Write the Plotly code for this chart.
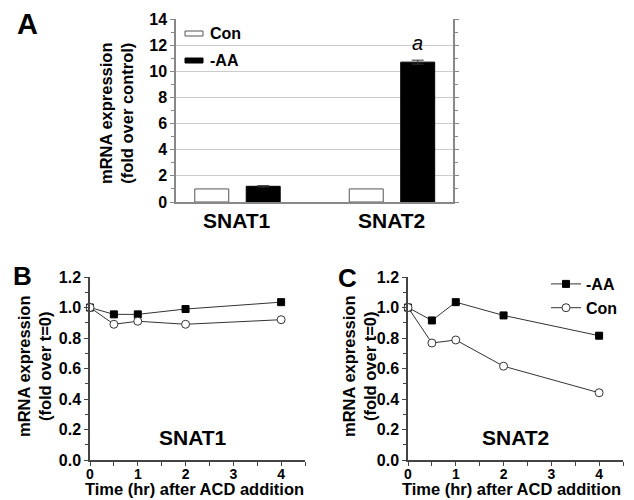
import plotly.graph_objects as go

# ---- Data ----
genes = ["SNAT1", "SNAT2"]
con_fold = [1.0, 1.0]
aa_fold = [1.2, 10.7]
aa_err = [0.05, 0.15]
con_err = [0.0, 0.0]

time_hr = [0, 0.5, 1, 2, 4]
snat1_aa = [1.0, 0.955, 0.955, 0.99, 1.035]
snat1_con = [1.0, 0.89, 0.91, 0.89, 0.92]
snat2_aa = [1.0, 0.915, 1.035, 0.948, 0.815]
snat2_con = [1.0, 0.767, 0.787, 0.615, 0.441]

x_title = "Time (hr) after ACD addition"

FONT = "Liberation Sans, Arial, Helvetica, sans-serif"
AX = "#444444"
LN = "#333333"
W, H = 634, 500

def px(x):
    return x / W

def py(y):
    return 1 - y / H

fig = go.Figure()

# Panel A bars
fig.add_trace(go.Bar(x=genes, y=con_fold, name="Con", marker=dict(color="white", line=dict(color="#555", width=1)),
                     error_y=dict(type="data", array=con_err, visible=False),
                     xaxis="x", yaxis="y", showlegend=False))
fig.add_trace(go.Bar(x=genes, y=aa_fold, name="-AA", marker=dict(color="black", line=dict(color="black", width=1)),
                     error_y=dict(type="data", array=aa_err, color="#333", thickness=1, width=6),
                     xaxis="x", yaxis="y", showlegend=False))

sq = dict(symbol="square", size=7, color="black", line=dict(color="black", width=1))
circ = dict(symbol="circle", size=8, color="white", line=dict(color=LN, width=1))

# Panel B
fig.add_trace(go.Scatter(x=time_hr, y=snat1_aa, mode="lines+markers", name="-AA", line=dict(color=LN, width=1),
                         marker=sq, xaxis="x2", yaxis="y2", showlegend=False, cliponaxis=False))
fig.add_trace(go.Scatter(x=time_hr, y=snat1_con, mode="lines+markers", name="Con", line=dict(color=LN, width=1),
                         marker=circ, xaxis="x2", yaxis="y2", showlegend=False, cliponaxis=False))
# Panel C
fig.add_trace(go.Scatter(x=time_hr, y=snat2_aa, mode="lines+markers", name="-AA", line=dict(color=LN, width=1),
                         marker=sq, xaxis="x3", yaxis="y3", showlegend=True, cliponaxis=False))
fig.add_trace(go.Scatter(x=time_hr, y=snat2_con, mode="lines+markers", name="Con", line=dict(color=LN, width=1),
                         marker=circ, xaxis="x3", yaxis="y3", showlegend=True, cliponaxis=False))

tickf = dict(family=FONT, size=16, color="black", weight="bold")
tickfx = dict(family=FONT, size=14, color="black", weight="bold")

line_x = dict(range=[0, 4.5], dtick=1, ticks="outside", ticklen=4, tickcolor=AX, showline=True,
              linecolor=AX, linewidth=1.5, showgrid=False, zeroline=False, tickfont=tickfx,
              ticklabelstandoff=-4,
              minor=dict(dtick=0.5, ticks="outside", ticklen=4, tickcolor=AX, showgrid=False))
line_y = dict(range=[0, 1.2], dtick=0.2, tickformat=".1f", ticks="outside", ticklen=4, tickcolor=AX,
              showline=True, linecolor=AX, linewidth=1.5, showgrid=False, zeroline=False, tickfont=tickf,
              minor=dict(dtick=0.1, ticks="outside", ticklen=3, tickcolor=AX, showgrid=False))

fig.update_layout(
    width=W, height=H,
    margin=dict(l=0, r=0, t=0, b=0, autoexpand=False),
    paper_bgcolor="white", plot_bgcolor="white",
    font=dict(family=FONT, color="black"),
    barmode="group", bargap=0.334, bargroupgap=0.34,
    xaxis=dict(domain=[px(176), px(453)], anchor="y", type="category", range=[-0.398, 1.395],
               showline=True, linecolor="#888", linewidth=1.5, ticks="", showgrid=False,
               showticklabels=False),
    yaxis=dict(domain=[py(202), py(19)], anchor="x", range=[0, 14], dtick=2, ticks="outside", ticklen=4,
               tickcolor="#888", showline=True, linecolor="#888", linewidth=1.5, mirror="ticks",
               showgrid=True, gridcolor="#cccccc", gridwidth=1, zeroline=False, tickfont=tickf,
               minor=dict(dtick=1, ticks="outside", ticklen=3, tickcolor="#888", showgrid=False)),
    xaxis2=dict(domain=[px(90), px(305)], anchor="y2", **line_x),
    yaxis2=dict(domain=[py(460), py(277)], anchor="x2", **line_y),
    xaxis3=dict(domain=[px(408), px(623)], anchor="y3", **line_x),
    yaxis3=dict(domain=[py(460), py(277)], anchor="x3", **line_y),
    legend=dict(x=px(546), y=py(267), xanchor="left", yanchor="top", bgcolor="rgba(0,0,0,0)",
                font=dict(family=FONT, size=16, color="black", weight="bold"), traceorder="normal",
                itemwidth=30, tracegroupgap=0),
)

# Panel A legend swatches
fig.add_shape(type="rect", xref="paper", yref="paper", x0=px(185), x1=px(203), y0=py(36), y1=py(31),
              fillcolor="white", line=dict(color="#555", width=1))
fig.add_shape(type="rect", xref="paper", yref="paper", x0=px(185), x1=px(203), y0=py(63), y1=py(58),
              fillcolor="black", line=dict(color="black", width=1))

def ann(text, x, y, size, angle=0, xanchor="center", yanchor="middle", yshift=0, italic=False,
        bold=True, xref="paper"):
    fig.add_annotation(text=text, x=x, y=y, xref=xref, yref="paper", showarrow=False,
                       textangle=angle, xanchor=xanchor, yanchor=yanchor, yshift=yshift,
                       font=dict(family=FONT, size=size, color="black",
                                 weight="bold" if bold else "normal",
                                 style="italic" if italic else "normal"))

ann("Con", px(208), py(33), 16, xanchor="left")
ann("-AA", px(208), py(60), 16, xanchor="left")

# category labels for panel A
for i, g in enumerate(genes):
    ann(g, i, py(221), 21, xref="x")

# panel letters
ann("A", px(27), py(24), 29)
ann("B", px(22), py(276), 26)
ann("C", px(347), py(278), 26)

# axis titles
ann("mRNA expression<br>(fold over control)", px(117), py(113), 16.5, angle=-90)
ann("mRNA expression<br>(fold over t=0)", px(34), py(366), 16.5, angle=-90)
ann("mRNA expression<br>(fold over t=0)", px(359), py(366), 16.5, angle=-90)
ann(x_title, px(194), 0, 16.5, yanchor="bottom")
ann(x_title, px(511), 0, 16.5, yanchor="bottom")

# panel gene labels
ann("SNAT1", px(193), py(437), 21)
ann("SNAT2", px(515), py(437), 21)

# significance mark above SNAT2 -AA bar
fig.add_annotation(text="a", x=1.166, y=aa_fold[1] + aa_err[1], xref="x", yref="y", showarrow=False,
                   yanchor="bottom", yshift=4,
                   font=dict(family=FONT, size=20, color="black", style="italic"))

fig.write_html("out.html", config={"displayModeBar": False},
               post_script="document.body.style.margin='0';")
